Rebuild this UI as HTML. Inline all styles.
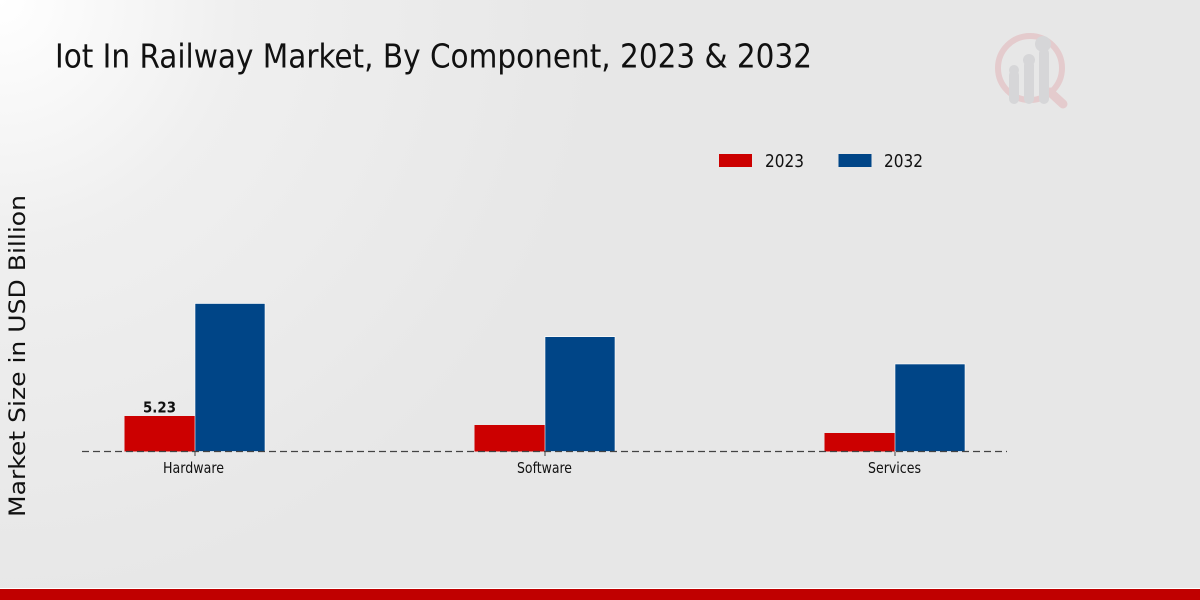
<!DOCTYPE html>
<html>
<head>
<meta charset="utf-8">
<style>
  html, body { margin: 0; padding: 0; }
  body { width: 1200px; height: 600px; overflow: hidden; }
  svg { display: block; }
  text { font-family: "DejaVu Sans Condensed", "DejaVu Sans", "Liberation Sans", sans-serif; fill: #111; }
</style>
</head>
<body>
<svg width="1200" height="600" viewBox="0 0 1200 600" xmlns="http://www.w3.org/2000/svg">
  <defs>
    <radialGradient id="bg" cx="0" cy="0" r="600" gradientUnits="userSpaceOnUse">
      <stop offset="0" stop-color="#ffffff"/>
      <stop offset="0.4" stop-color="#efefef"/>
      <stop offset="1" stop-color="#e7e7e7"/>
    </radialGradient>
  </defs>
  <rect x="0" y="0" width="1200" height="600" fill="url(#bg)"/>

  <!-- Title -->
  <text x="55" y="67.5" font-size="33" textLength="757" lengthAdjust="spacingAndGlyphs" style="font-stretch:condensed">Iot In Railway Market, By Component, 2023 &amp; 2032</text>

  <!-- Logo watermark -->
  <g opacity="0.55">
    <circle cx="1030" cy="68" r="32" fill="none" stroke="#e3b5b8" stroke-width="6"/>
    <line x1="1050" y1="92" x2="1063" y2="104" stroke="#e3b5b8" stroke-width="9" stroke-linecap="round"/>
    <rect x="1009" y="70" width="10" height="34" rx="5" fill="#c9c9cc"/>
    <rect x="1024" y="60" width="10" height="44" rx="5" fill="#c9c9cc"/>
    <rect x="1039" y="48" width="10" height="56" rx="5" fill="#c9c9cc"/>
    <circle cx="1014" cy="70" r="5" fill="#c9c9cc"/>
    <circle cx="1029" cy="60" r="6" fill="#c9c9cc"/>
    <circle cx="1043" cy="44" r="8" fill="#c9c9cc"/>
  </g>

  <!-- Legend -->
  <rect x="719" y="154" width="33" height="13" fill="#cc0000"/>
  <text x="765" y="167" font-size="18" textLength="39" lengthAdjust="spacingAndGlyphs">2023</text>
  <rect x="838.5" y="154" width="33" height="13" fill="#004587"/>
  <text x="884" y="167" font-size="18" textLength="39" lengthAdjust="spacingAndGlyphs">2032</text>

  <!-- Y axis label -->
  <text transform="translate(25,356) rotate(-90)" x="0" y="0" text-anchor="middle" font-size="22" textLength="322" lengthAdjust="spacingAndGlyphs" style="font-family:'DejaVu Sans', sans-serif">Market Size in USD Billion</text>

  <!-- Bars -->
  <rect x="124.5" y="416" width="70.5" height="35.5" fill="#cc0000"/>
  <rect x="195" y="303.5" width="70" height="148" fill="#004587" stroke="#ffffff" stroke-width="0.6"/>

  <rect x="474.5" y="425" width="70.5" height="26.5" fill="#cc0000"/>
  <rect x="545" y="336.7" width="70" height="114.8" fill="#004587" stroke="#ffffff" stroke-width="0.6"/>

  <rect x="824.5" y="433" width="70.5" height="18.5" fill="#cc0000"/>
  <rect x="895" y="364" width="70" height="87.5" fill="#004587" stroke="#ffffff" stroke-width="0.6"/>

  <!-- Baseline dashed -->
  <line x1="82" y1="451.5" x2="1007" y2="451.5" stroke="#444" stroke-width="1.2" stroke-dasharray="7,4"/>

  <!-- Ticks -->
  <line x1="195" y1="451.5" x2="195" y2="456" stroke="#444" stroke-width="1"/>
  <line x1="545" y1="451.5" x2="545" y2="456" stroke="#444" stroke-width="1"/>
  <line x1="895" y1="451.5" x2="895" y2="456" stroke="#444" stroke-width="1"/>

  <!-- Tick labels -->
  <text x="163" y="473" font-size="15" textLength="61" lengthAdjust="spacingAndGlyphs">Hardware</text>
  <text x="517" y="473" font-size="15" textLength="55" lengthAdjust="spacingAndGlyphs">Software</text>
  <text x="868" y="473" font-size="15" textLength="53" lengthAdjust="spacingAndGlyphs">Services</text>

  <!-- Data label -->
  <text x="143" y="412.3" font-size="15" font-weight="bold" textLength="33" lengthAdjust="spacingAndGlyphs" style="font-family:'DejaVu Sans', sans-serif">5.23</text>

  <!-- Bottom bar -->
  <rect x="0" y="588" width="1200" height="1" fill="#ffffff"/>
  <rect x="0" y="589" width="1200" height="11" fill="#c00000"/>
</svg>
</body>
</html>
